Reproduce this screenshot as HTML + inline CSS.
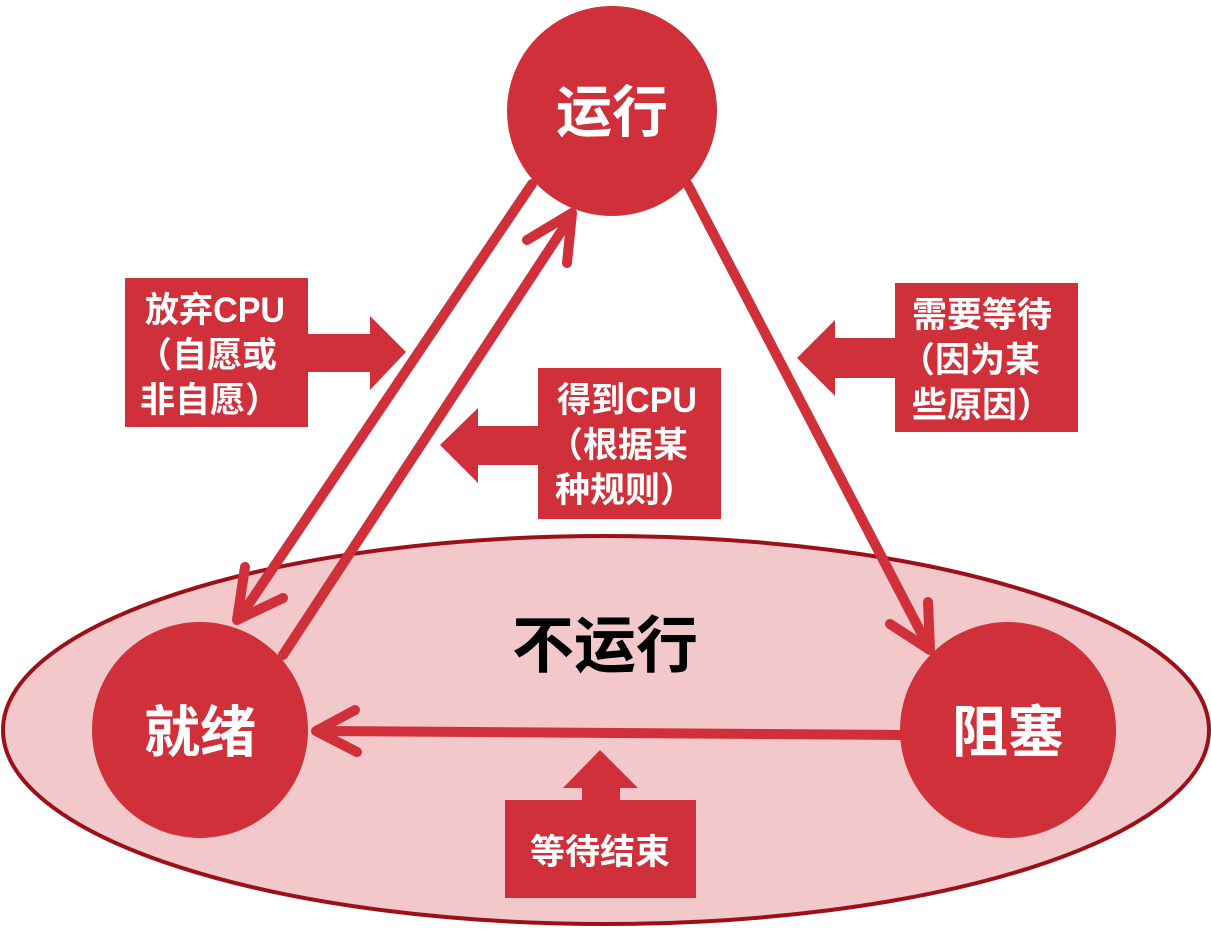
<!DOCTYPE html>
<html><head><meta charset="utf-8"><style>
html,body{margin:0;padding:0;background:#fff;width:1211px;height:930px;overflow:hidden}
svg text{font-family:"Liberation Sans","Noto Sans CJK SC",sans-serif;font-weight:bold}
</style></head><body>
<svg width="1211" height="930" viewBox="0 0 1211 930">
<ellipse cx="606" cy="730" rx="603" ry="194" fill="#f2c8ca" stroke="#9c1019" stroke-width="4"/>
<text x="605" y="667" font-size="62" text-anchor="middle" fill="#000">不运行</text>
<g stroke="#d0303a" stroke-width="10" fill="none" stroke-linecap="round" stroke-linejoin="round">
<g><line x1="532" y1="184" x2="240" y2="617"/><polyline points="245,567 237,620 283,598"/></g>
<g><line x1="283" y1="655" x2="570" y2="218"/><polyline points="527,240 572,213 567,263"/></g>
<g><line x1="688" y1="185" x2="928" y2="646"/><polyline points="890,624 930,650 928,602"/></g>
<g><line x1="905" y1="735" x2="318" y2="731"/><polyline points="355,710 316,731 357,752"/></g>
</g>
<circle cx="612" cy="111" r="105" fill="#d0303a"/>
<text x="612" y="132" font-size="56" text-anchor="middle" fill="#fff">运行</text>
<circle cx="200" cy="730" r="108" fill="#d0303a"/>
<text x="200" y="752" font-size="56" text-anchor="middle" fill="#fff">就绪</text>
<circle cx="1008" cy="730" r="108" fill="#d0303a"/>
<text x="1008" y="752" font-size="56" text-anchor="middle" fill="#fff">阻塞</text>
<g fill="#d0303a">
<g>
<rect x="125" y="278" width="183" height="149"/>
<polygon points="307,334 370,334 370,316 406,352 370,390 370,372 307,372"/>
</g>
<g>
<rect x="895" y="283" width="183" height="149"/>
<polygon points="895,338 835,338 835,320 797,358 835,396 835,378 895,378"/>
</g>
<g>
<rect x="538" y="368" width="183" height="151"/>
<polygon points="538,426 478,426 478,408 440,445 478,483 478,465 538,465"/>
</g>
<g>
<rect x="505" y="800" width="191" height="98"/>
<polygon points="582,800 582,788 563,788 600,750 638,788 620,788 620,800"/>
</g>
</g>
<g fill="#fff" font-size="35">
<text x="145" y="322" textLength="140" lengthAdjust="spacingAndGlyphs">放弃CPU</text>
<text x="137" y="367">（自愿或</text>
<text x="140" y="412">非自愿）</text>
<text x="912" y="327">需要等待</text>
<text x="900" y="372">（因为某</text>
<text x="912" y="417">些原因）</text>
<text x="557" y="412" textLength="140" lengthAdjust="spacingAndGlyphs">得到CPU</text>
<text x="548" y="457">（根据某</text>
<text x="555" y="502">种规则）</text>
<text x="600" y="864" text-anchor="middle">等待结束</text>
</g>
</svg>
</body></html>
